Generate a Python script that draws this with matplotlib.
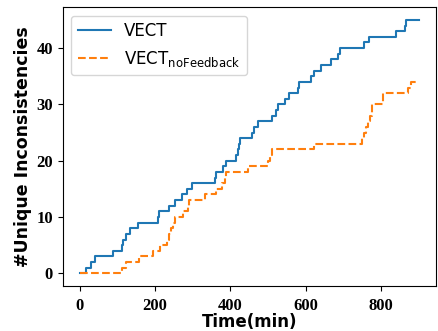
import matplotlib
matplotlib.use("Agg")
from matplotlib import pyplot as plt

# step times (min) and cumulative counts
vect_t = [0, 17, 30, 40, 89, 112, 116, 122, 135, 154, 207, 211, 237, 253, 271, 285,
          298, 359, 363, 380, 389, 416, 419, 422, 425, 458, 463, 474, 511, 520, 526,
          545, 555, 579, 581, 614, 621, 641, 667, 685, 690, 755, 768, 839, 862, 866, 900]
vect_v = [0, 1, 2, 3, 4, 5, 6, 7, 8, 9, 10, 11, 12, 13, 14, 15,
          16, 17, 18, 19, 20, 21, 22, 23, 24, 25, 26, 27, 28, 29, 30,
          31, 32, 33, 34, 35, 36, 37, 38, 39, 40, 41, 42, 43, 44, 45, 45]

nofb_t = [0, 112, 122, 157, 195, 213, 231, 237, 243, 248, 253, 275, 287, 290, 334,
          361, 377, 385, 388, 447, 500, 505, 511, 623, 750, 755, 760, 765, 770, 777,
          804, 806, 870, 879, 900]
nofb_v = [0, 1, 2, 3, 4, 5, 6, 7, 8, 9, 10, 11, 12, 13, 14,
          15, 16, 17, 18, 19, 20, 21, 22, 23, 24, 25, 26, 27, 28, 30,
          31, 32, 33, 34, 34]

fig = plt.figure(figsize=(4.38, 3.31), dpi=100)
ax = fig.add_axes([0.143, 0.136, 0.852, 0.842])

ax.step(vect_t, vect_v, where="post", color="#1f77b4", lw=1.5, label="VECT")
ax.step(nofb_t, nofb_v, where="post", color="#ff7f0e", lw=1.5, ls="--",
        label=r"VECT$_{\rm noFeedback}$")

ax.set_xticks([0, 200, 400, 600, 800])
ax.set_yticks([0, 10, 20, 30, 40])
ax.tick_params(axis="x", pad=5.5)
for lab in ax.get_xticklabels() + ax.get_yticklabels():
    lab.set_family("Liberation Serif")
    lab.set_fontweight("bold")
    lab.set_fontsize(12)

ax.set_xlabel("Time(min)", fontsize=12, fontweight="bold", labelpad=-1)
ax.set_ylabel("#Unique Inconsistencies", fontsize=12.5, fontweight="bold", labelpad=3)

ax.legend(loc="upper left", fontsize=12)

fig.savefig("out.png", dpi=100)
